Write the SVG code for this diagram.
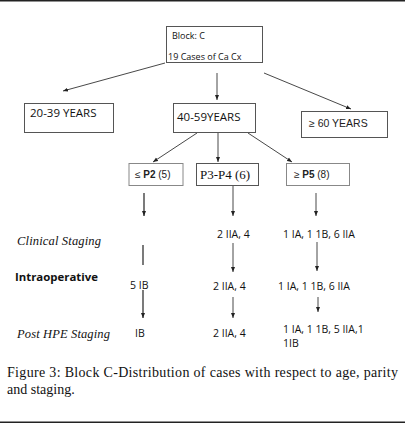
<svg xmlns="http://www.w3.org/2000/svg" width="405" height="425" viewBox="0 0 405 425">
<defs>
<marker id="ah" viewBox="0 0 10 10" refX="10" refY="5" markerWidth="5" markerHeight="5" markerUnits="userSpaceOnUse" orient="auto">
<path d="M0,1 L10,5 L0,9 z" fill="#222"/>
</marker>
</defs>
<style>
.box{fill:#fff;stroke:#555;stroke-width:1}
.pbox{fill:#fff;stroke:#888;stroke-width:1}
.ln{stroke:#333;stroke-width:0.9;fill:none}
.ar{stroke:#333;stroke-width:0.9;fill:none;marker-end:url(#ah)}
.s{font-family:"Open Sans","Noto Sans",sans-serif;fill:#111}
.a{font-family:"Liberation Sans",Arial,sans-serif;fill:#222}
.r{font-family:"Liberation Serif","Times New Roman",serif;fill:#111}
.i{font-family:"Liberation Serif","Times New Roman",serif;font-style:italic;fill:#111;font-size:12.5px}
.d{font-family:"Open Sans","Noto Sans",sans-serif;fill:#111;font-size:10.5px}
</style>
<rect x="-3" y="0.75" width="411" height="421.5" rx="4" fill="none" stroke="#222" stroke-width="1.5"/>

<g id="connectors">
<line class="ar" x1="165" y1="63" x2="63" y2="91"/>
<line class="ar" x1="217" y1="73" x2="217" y2="100"/>
<line class="ar" x1="264" y1="73" x2="351" y2="109"/>
<line class="ar" x1="197" y1="133" x2="153" y2="162"/>
<line class="ar" x1="218" y1="133" x2="218" y2="162"/>
<line class="ar" x1="248" y1="133" x2="292" y2="162"/>
<line class="ar" x1="144" y1="193" x2="144" y2="216" style="stroke-width:1.3"/>
<line class="ar" x1="233" y1="186" x2="233" y2="216"/>
<line class="ar" x1="316" y1="193" x2="316" y2="216"/>
<line class="ln" x1="143" y1="245" x2="143" y2="265" style="stroke-width:1.3"/>
<line class="ar" x1="143" y1="290" x2="143" y2="318" style="stroke-width:1.3"/>
<line class="ar" x1="233" y1="243" x2="233" y2="272"/>
<line class="ar" x1="233" y1="297" x2="233" y2="318"/>
<line class="ar" x1="317" y1="242" x2="317" y2="271"/>
<line class="ar" x1="318" y1="297" x2="318" y2="312"/>
</g>

<g id="block-c">
<rect class="box" x="166.5" y="26.5" width="96" height="36"/>
<text class="s" x="172" y="38.5" font-size="9">Block: C</text>
<text class="s" x="168" y="59.5" font-size="9">19 Cases of Ca Cx</text>
</g>

<g id="age-20-39">
<rect class="box" x="24.5" y="103.5" width="89" height="29"/>
<text class="s" x="30" y="117" font-size="11.5">20-39 YEARS</text>
</g>

<g id="age-40-59">
<rect class="box" x="173.5" y="103.5" width="82" height="29"/>
<text class="s" x="177" y="121" font-size="11.5">40-59YEARS</text>
</g>

<g id="age-60">
<rect class="box" x="301.5" y="111.5" width="86" height="26"/>
<text class="a" x="309" y="127" font-size="10.5">≥ 60 YEARS</text>
</g>

<g id="p2">
<rect class="pbox" x="129" y="163.5" width="54" height="22"/>
<text class="a" x="135" y="178" font-size="10">≤ <tspan font-weight="bold">P2</tspan> (5)</text>
</g>

<g id="p3-p4">
<rect class="pbox" x="196.5" y="163.5" width="62" height="22" style="stroke:#555"/>
<text class="r" x="200" y="179" font-size="13">P3-P4 (6)</text>
</g>

<g id="p5">
<rect class="pbox" x="286.5" y="163.5" width="63" height="22"/>
<text class="a" x="294" y="178" font-size="10">≥ <tspan font-weight="bold">P5</tspan> (8)</text>
</g>

<g id="row-labels">
<text class="i" x="17" y="245" textLength="84">Clinical Staging</text>
<text class="s" x="15" y="281" font-size="11.4" font-weight="bold">Intraoperative</text>
<text class="i" x="17" y="338" textLength="93">Post HPE Staging</text>
</g>

<g id="p2-stages">
<text class="d" x="130" y="289">5 IB</text>
<text class="d" x="135" y="337">IB</text>
</g>

<g id="p3p4-stages">
<text class="d" x="217" y="238">2 IIA, 4</text>
<text class="d" x="213" y="290">2 IIA, 4</text>
<text class="d" x="213" y="337">2 IIA, 4</text>
</g>

<g id="p5-stages">
<text class="d" x="283" y="238">1 IA, 1 1B, 6 IIA</text>
<text class="d" x="278" y="290">1 IA, 1 1B, 6 IIA</text>
<text class="d" x="283" y="333">1 IA, 1 1B, 5 IIA,1</text>
<text class="d" x="283" y="347">1IB</text>
</g>

<g id="caption">
<text class="r" x="7" y="377" font-size="14" textLength="391" lengthAdjust="spacing">Figure 3: Block C-Distribution of cases with respect to age, parity</text>
<text class="r" x="7" y="394" font-size="14">and staging.</text>
</g>
</svg>
